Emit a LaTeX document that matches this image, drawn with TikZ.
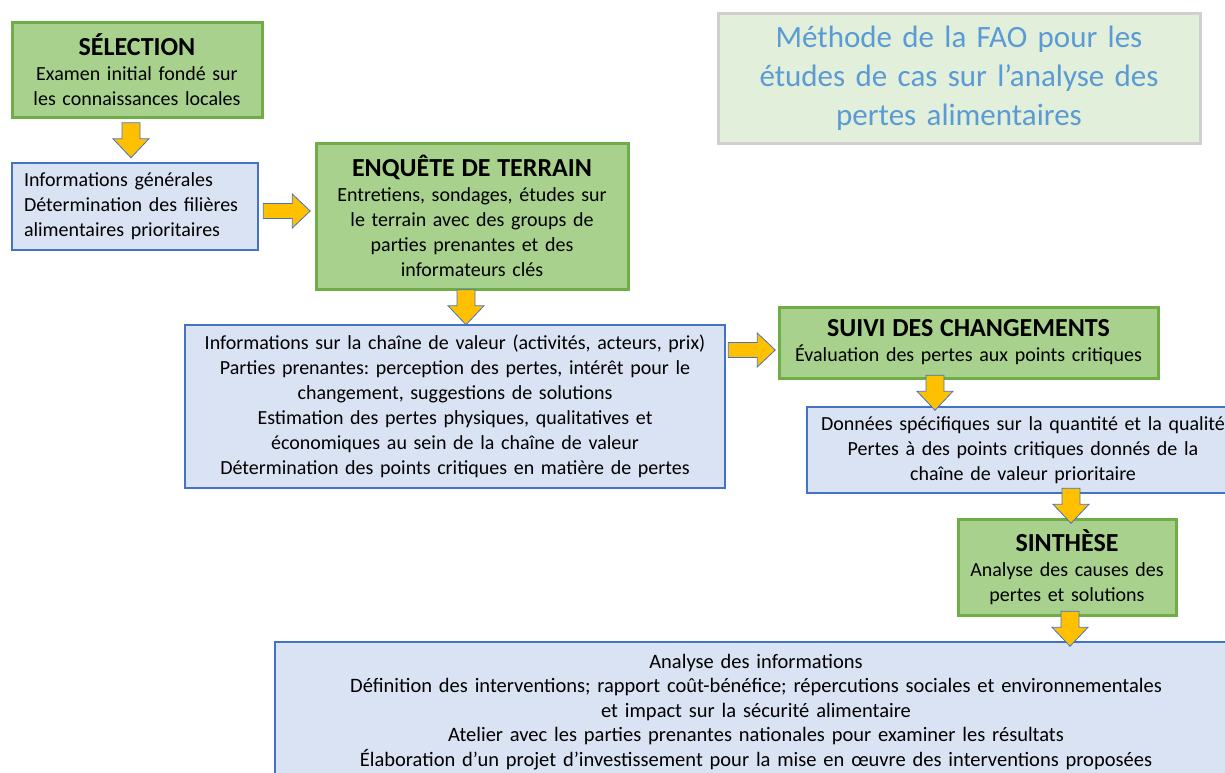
\documentclass[tikz,border=0pt]{standalone}
\usepackage{fontspec}
\setmainfont{Carlito}
\usetikzlibrary{calc}
\frenchspacing

\definecolor{vertfond}{HTML}{A9D18E}
\definecolor{vertbord}{HTML}{70AD47}
\definecolor{bleufond}{HTML}{DAE3F3}
\definecolor{bleubord}{HTML}{4472C4}
\definecolor{jaune}{HTML}{FFC000}
\definecolor{titrefond}{HTML}{E2EFDA}
\definecolor{titrebord}{HTML}{D0D0D0}
\definecolor{titretexte}{HTML}{5B9BD5}

\newcommand{\entete}{\bfseries\fontsize{26}{29}\selectfont}
\newcommand{\corps}{\fontsize{20}{25}\selectfont}

\tikzset{
    fleche/.style={draw=bleubord, fill=jaune, line width=0.8pt, line join=miter}
}

% fleche vers le bas, au milieu entre deux boites
\newcommand{\flechev}[3][0]{%
    \coordinate (fm) at ($(#2.south)!0.5!(#2.south|-#3.north)+(#1,0)$);
    \draw[fleche] (fm) ++(-9,-17.5) -- ++(18,0) -- ++(0,16) -- ++(9,0)
        -- ++(-18,19) -- ++(-18,-19) -- ++(9,0) -- cycle;}
% fleche vers la droite
\newcommand{\flecheh}[3][0]{%
    \coordinate (fm) at ($(#2.east|-#3.west)!0.5!(#3.west)+(0,#1)$);
    \draw[fleche] (fm) ++(-23.5,-7.5) -- ++(29,0) -- ++(0,-9.5) -- ++(18,17)
        -- ++(-18,17) -- ++(0,-9.5) -- ++(-29,0) -- cycle;}

\begin{document}
\begin{tikzpicture}[x=1pt, y=-1pt]
    \useasboundingbox (0,0) rectangle (1225,772);

        \node[draw=titrebord, fill=titrefond, line width=3pt, align=center,
              minimum width=482pt, minimum height=130pt, text width=470pt,
              text=titretexte, font=\fontsize{31}{39}\selectfont] (0) at (959,78)
              {Méthode de la FAO pour les\\études de cas sur l’analyse des\\pertes alimentaires};

        \begin{scope}[every node/.style={draw=vertbord, fill=vertfond, line width=3pt, align=center, font=\corps}]
            \node[minimum width=250pt, minimum height=95pt, text width=240pt] (1) at (137,69.5)
                {{\entete SÉLECTION}\\Examen initial fondé sur\\les connaissances locales};
            \node[minimum width=312pt, minimum height=146pt, text width=300pt] (3) at (472,216)
                {{\entete ENQUÊTE DE TERRAIN}\\Entretiens, sondages, études sur\\le terrain avec des groups de\\parties prenantes et des\\informateurs clés};
            \node[minimum width=379pt, minimum height=71pt, text width=370pt] (5) at (968.5,342.5)
                {{\entete SUIVI DES CHANGEMENTS}\\Évaluation des pertes aux points critiques};
            \node[minimum width=218pt, minimum height=96pt, text width=210pt] (7) at (1067,567)
                {{\entete SINTHÈSE}\\Analyse des causes des\\pertes et solutions};
        \end{scope}

        \begin{scope}[every node/.style={draw=bleubord, fill=bleufond, line width=2pt, align=center, font=\corps}]
            \node[align=left, minimum width=246pt, minimum height=87pt, text width=222pt] (2) at (135,206.5)
                {Informations générales\\Détermination des filières\\alimentaires prioritaires};
            \node[minimum width=540pt, minimum height=163pt, text width=530pt] (4) at (455,406.5)
                {Informations sur la chaîne de valeur (activités, acteurs, prix)\\
                 Parties prenantes: perception des pertes, intérêt pour le\\
                 changement, suggestions de solutions\\
                 Estimation des pertes physiques, qualitatives et\\
                 économiques au sein de la chaîne de valeur\\
                 Détermination des points critiques en matière de pertes};
            \node[minimum width=962pt, minimum height=140pt, text width=950pt,
                  font=\fontsize{20.5}{24.5}\selectfont] (8) at (756,712)
                {Analyse des informations\\
                 Définition des interventions; rapport coût-bénéfice; répercutions sociales et environnementales\\
                 et impact sur la sécurité alimentaire\\
                 Atelier avec les parties prenantes nationales pour examiner les résultats\\
                 Élaboration d’un projet d’investissement pour la mise en œuvre des interventions proposées};
            \node[minimum width=432pt, minimum height=86pt, text width=424pt] (6) at (1023,450)
                {Données spécifiques sur la quantité et la qualité\\
                 Pertes à des points critiques donnés de la\\
                 chaîne de valeur prioritaire};
        \end{scope}

        \flechev[-6]{1}{2}
        \flecheh[-5]{2}{3}
        \flechev[-6]{3}{4}
        \flecheh[7.5]{4}{5}
        \flechev[-33.5]{5}{6}
        \flechev[48]{6}{7}
        \flechev[3]{7}{8}

    \end{tikzpicture}
\end{document}
